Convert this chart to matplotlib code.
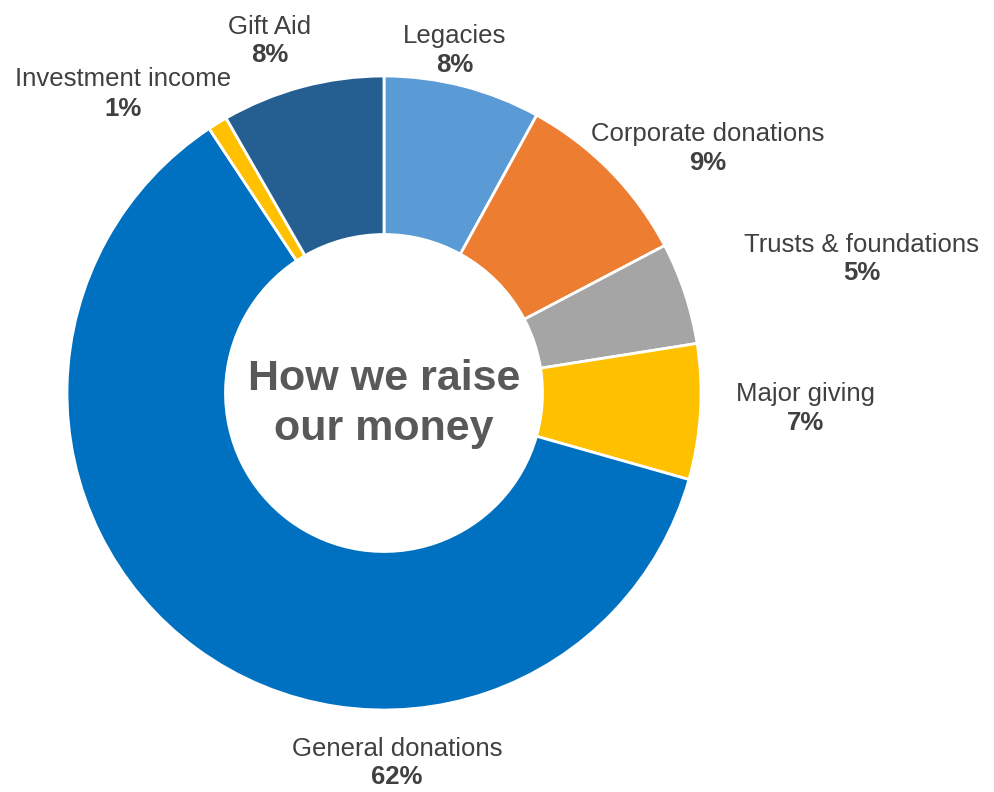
import matplotlib.pyplot as plt

categories = ["Legacies", "Corporate donations", "Trusts & foundations", "Major giving",
              "General donations", "Investment income", "Gift Aid"]
values = [8.0, 9.3, 5.2, 6.9, 61.3, 1.0, 8.3]
pct_labels = ["8%", "9%", "5%", "7%", "62%", "1%", "8%"]
colors = ["#5B9BD5", "#ED7D31", "#A5A5A5", "#FFC000", "#0070C0", "#FFC000", "#255E91"]

# label centres in pixel coordinates (x, y from top)
label_pos = [(455, 51), (708, 148), (862, 259), (806, 409), (397, 763), (123, 94), (270, 41)]

W, H = 994, 792
cx, cy, r = 384, 393, 317

fig = plt.figure(figsize=(W / 100, H / 100), dpi=100)
ax = fig.add_axes([0, 0, 1, 1])

ax.pie(values, colors=colors, startangle=90, counterclock=False,
       center=(cx, H - cy), radius=r, frame=True,
       wedgeprops=dict(width=r * 0.5, edgecolor="white", linewidth=2))
ax.set_xlim(0, W)
ax.set_ylim(0, H)
ax.set_aspect("equal")
ax.axis("off")

for name, pct, (x, y) in zip(categories, pct_labels, label_pos):
    ax.text(x, H - y + 14.5, name, ha="center", va="center", fontsize=18.5,
            color="#404040", family="Liberation Sans")
    ax.text(x, H - y - 14.5, pct, ha="center", va="center", fontsize=18.5,
            color="#404040", family="Liberation Sans", fontweight="bold")

ax.text(cx, H - 404, "How we raise\nour money", ha="center", va="center", fontsize=31,
        color="#595959", family="Liberation Sans", fontweight="bold", linespacing=1.3)

fig.savefig("out.png", dpi=100)
